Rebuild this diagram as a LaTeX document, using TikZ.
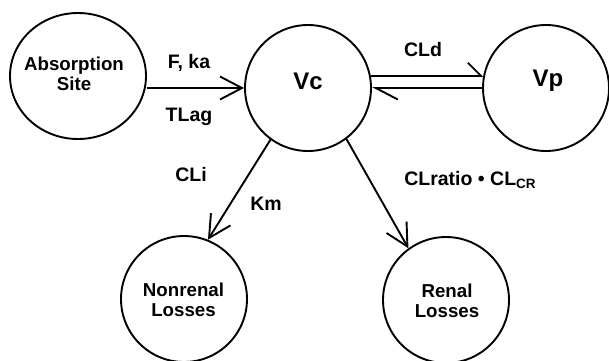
\documentclass[tikz,border=0pt]{standalone}
\usepackage{fontspec}
\setmainfont{Liberation Sans}
\usetikzlibrary{arrows.meta,shapes.geometric}
\begin{document}
\begin{tikzpicture}[x=1pt,y=-1pt,
  comp/.style={draw,line width=1.9pt,circle,minimum size=126pt,inner sep=0pt},
  intext/.style={font=\fontsize{18.7}{20}\selectfont\bfseries,align=center},
  lbl/.style={font=\fontsize{19.5}{20}\selectfont\bfseries},
  big/.style={font=\fontsize{24}{24}\selectfont\bfseries},
  conn/.style={line width=1.9pt,-{Straight Barb[length=22pt,width=23pt,line width=1.9pt]}},
  halftop/.style={line width=1.9pt,-{Straight Barb[left,length=13pt,width=26pt,line width=1.9pt]}},
  halfbot/.style={line width=1.9pt,-{Straight Barb[left,length=22pt,width=23pt,line width=1.9pt]}}]
\useasboundingbox (0,0) rectangle (609,360);
\node[draw,line width=1.9pt,ellipse,minimum width=136pt,minimum height=126pt,inner sep=0pt] (abs) at (78,76) {};
\node[comp] (vc) at (308,88) {};
\node[comp] (vp) at (546,88) {};
\node[comp] (nr) at (184,299) {};
\node[comp] (rn) at (446,300) {};
\node[intext] (abst) at (74,74) {Absorption\\Site};
\node[big] (vct) at (308,81) {Vc};
\node[big] (vpt) at (548,81) {Vp};
\node[intext] (nrt) at (183.5,300) {Nonrenal\\Losses};
\node[intext] (rnt) at (447,301) {Renal\\Losses};
\node[lbl] (fka) at (189,63) {F, ka};
\node[lbl] (tlag) at (189,117) {TLag};
\node[lbl] (cld) at (423,50) {CLd};
\node[lbl] (cli) at (191,175) {CLi};
\node[lbl] (km) at (266,204) {Km};
\node[lbl] (clr) at (470,180) {CLratio • CL\raisebox{-2.5pt}{\fontsize{13.5}{14}\selectfont CR}};
\draw[conn] (vc.west -| abs.east) -- (vc.west);
\draw[halftop] (vc.11) -- (vp.169);
\draw[halfbot] (vp.180) -- (vc.0);
\draw[conn] (vc.234) -- (nr.68);
\draw[conn] (vc.307) -- (rn.126);
\end{tikzpicture}
\end{document}
